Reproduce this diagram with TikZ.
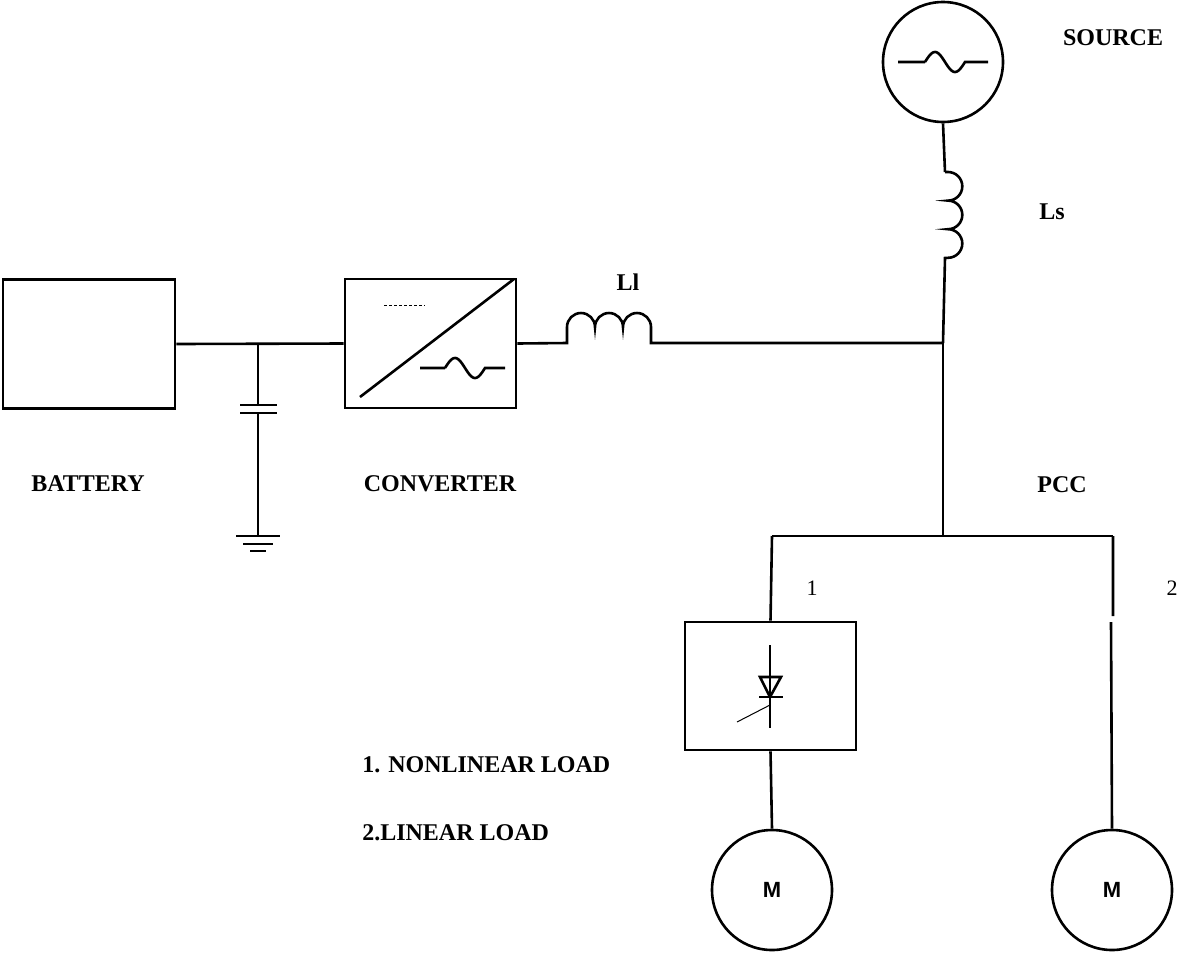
\documentclass[tikz,border=0pt]{standalone}
\usepackage{fontspec}
\setmainfont{Liberation Serif}
\newfontfamily\sansf{Liberation Sans}
\begin{document}
\begin{tikzpicture}[x=1pt,y=-1pt,line width=2.6pt,
  lbl/.style={font=\fontsize{24}{28}\selectfont\bfseries,inner sep=0},
  num/.style={font=\fontsize{22}{26}\selectfont,inner sep=0},
  box/.style={draw,minimum width=#1,inner sep=0,line width=2.6pt},
  mot/.style={draw,circle,minimum size=120pt,inner sep=0,font=\sansf\fontsize{22}{26}\selectfont\bfseries}]
\useasboundingbox (0,0) rectangle (1181,962);
% boxes
\node[draw,minimum width=172pt,minimum height=129pt,inner sep=0] (bat) at (89,344) {};
\node[draw,minimum width=171pt,minimum height=129pt,inner sep=0] (conv) at (430.5,343.5) {};
\node[draw,minimum width=171pt,minimum height=128pt,inner sep=0] (thy) at (770.5,686) {};
\node[draw,circle,minimum size=120pt,inner sep=0] (src) at (943,62) {};
\node[mot] (m1) at (772,890) {M};
\node[mot] (m2) at (1112,890) {M};
% labels
\node[lbl] (t1) at (1113,38) {SOURCE};
\node[lbl] (t2) at (1052,212) {Ls};
\node[lbl] (t3) at (628,282) {Ll};
\node[lbl] (t4) at (88,484) {BATTERY};
\node[lbl] (t5) at (440,484) {CONVERTER};
\node[lbl] (t6) at (1062,485) {PCC};
\node[num] (t7) at (812,588) {1};
\node[num] (t8) at (1172,588) {2};
\node[lbl,anchor=west] (t9) at (361,765) {1. NONLINEAR LOAD};
\node[lbl,anchor=west] (t10) at (361,833) {2.LINEAR LOAD};
% coordinates
\coordinate (cap) at (258,344);
\coordinate (pcc) at (943,343);
\coordinate (bus) at (943,536);
\coordinate (bl) at (772,536);
\coordinate (br) at (1113,536);
% battery to converter
\draw (bat.east) -- (conv.west);
% capacitor and ground
\draw (cap) -- (258,405);
\draw (240,405) -- (277,405) (240,413) -- (277,413);
\draw (258,413) -- (258,536);
\draw (236,536) -- (280,536) (243,544) -- (273,544) (250,551) -- (266,551);
% converter symbol
\draw (360,397) -- (514,279);
\draw[line width=1pt,dash pattern=on 3pt off 2pt] (384,305) -- (425,305);
\draw (420,368) -- (445,368) plot[domain=0:360,samples=40,smooth] ({445+\x/9},{368-10*sin(\x)}) -- (505,368);
% Ll
\draw (conv.east) -- (567,343) -- (567,327) arc (180:360:14) arc (180:360:14) arc (180:360:14) -- (651,343) -- (pcc);
% source
\draw (898,62) -- (925,62) plot[domain=0:360,samples=40,smooth] ({925+\x/9},{62-10*sin(\x)}) -- (988,62);
\draw (src.south) -- (945,172);
\draw (945,172) -- (948,172) arc (-90:90:14.3) arc (-90:90:14.3) arc (-90:90:14.3) -- (945,258) -- (pcc);
% bus
\draw (pcc) -- (bus);
\draw (bl) -- (br);
\draw (bl) -- (thy.north);
\draw (br) -- (1113,616) (1111,622) -- (m2.north);
\draw (thy.south) -- (m1.north);
% thyristor
\draw (770,645) -- (770,728);
\draw (760,677) -- (781,677) -- (770,697) -- cycle;
\draw (759,697) -- (783,697);
\draw[line width=1pt] (737,722) -- (770,705);
\end{tikzpicture}
\end{document}
